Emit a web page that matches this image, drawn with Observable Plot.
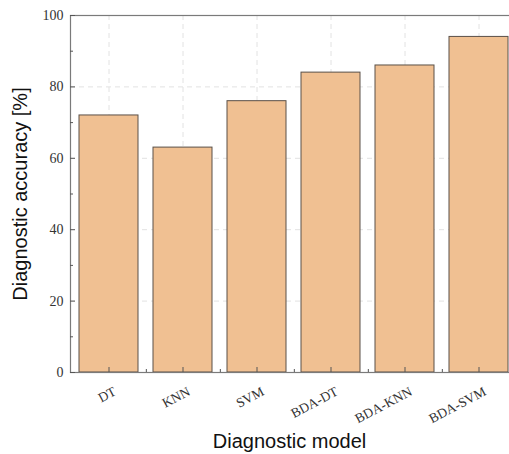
<!DOCTYPE html>
<html>
<head>
<meta charset="utf-8">
<script src="https://cdn.jsdelivr.net/npm/d3@7"></script>
<script src="https://cdn.jsdelivr.net/npm/@observablehq/plot@0.6"></script>
<style>
  html, body { margin: 0; padding: 0; background: white; overflow: hidden; }
  g[aria-label="y-axis tick label"] text, g[aria-label="x-axis tick label"] text {
    font-family: 'Liberation Serif', 'Times New Roman', serif;
  }
</style>
</head>
<body>
<div id="chart"></div>
<script>
const models = ["DT", "KNN", "SVM", "BDA-DT", "BDA-KNN", "BDA-SVM"];
const accuracy = [72, 63, 76, 84, 86, 94];
const yTicks = [0, 20, 40, 60, 80, 100];
const yMinorTicks = [10, 30, 50, 70, 90];
const xLabel = "Diagnostic model";
const yLabel = "Diagnostic accuracy [%]";

const data = models.map((m, i) => ({model: m, value: accuracy[i]}));
const serif = "'Liberation Serif', 'Times New Roman', serif";
const sans = "'Liberation Sans', Arial, sans-serif";
const step = (509 + 9 - 70) / models.length;

const chart = Plot.plot({
  width: 509,
  height: 454,
  marginLeft: 70,
  marginRight: -9,
  marginTop: 15,
  marginBottom: 82,
  style: {background: "white", overflow: "hidden"},
  x: {domain: models, paddingInner: 0.2, paddingOuter: 0.1, label: null},
  y: {domain: [0, 100], label: null},
  marks: [
    Plot.gridX({stroke: "#e2e2e2", strokeOpacity: 1, strokeDasharray: "5,4"}),
    Plot.gridY({ticks: [20, 40, 60, 80], stroke: "#e2e2e2", strokeOpacity: 1, strokeDasharray: "5,4"}),
    Plot.barY(data, {x: "model", y: "value", fill: "#F0C092", stroke: "#5a5048", strokeWidth: 1}),
    Plot.frame({stroke: "#7a7a7a", strokeWidth: 1.2}),
    Plot.axisY({ticks: yTicks, tickSize: -5, tickFormat: () => "", stroke: "#555", label: null}),
    Plot.axisY({ticks: yMinorTicks, tickSize: -3, tickFormat: () => "", stroke: "#555", label: null}),
    Plot.axisY({ticks: yTicks, tickSize: 0, tickPadding: 7, fontFamily: serif, fontSize: 14, fill: "#333", label: null}),
    Plot.axisX({tickSize: -5, tickFormat: () => "", stroke: "#555", label: null}),
    Plot.axisX({ticks: models.slice(0, 5), tickSize: -3, tickFormat: () => "", stroke: "#555", dx: step / 2, label: null}),
    Plot.axisX({tickSize: 0, tickPadding: 18, tickRotate: -28, fontFamily: serif, fontSize: 13.5, fill: "#333", label: null, dx: 6}),
    Plot.text([xLabel], {frameAnchor: "bottom", dy: 69, dx: -5, lineAnchor: "middle", textAnchor: "middle", fontFamily: sans, fontSize: 20, fill: "#111"}),
    Plot.text([yLabel], {frameAnchor: "left", dx: -50, rotate: -90, lineAnchor: "middle", textAnchor: "middle", fontFamily: sans, fontSize: 20, fill: "#111"})
  ]
});
document.getElementById("chart").appendChild(chart);
</script>
</body>
</html>
